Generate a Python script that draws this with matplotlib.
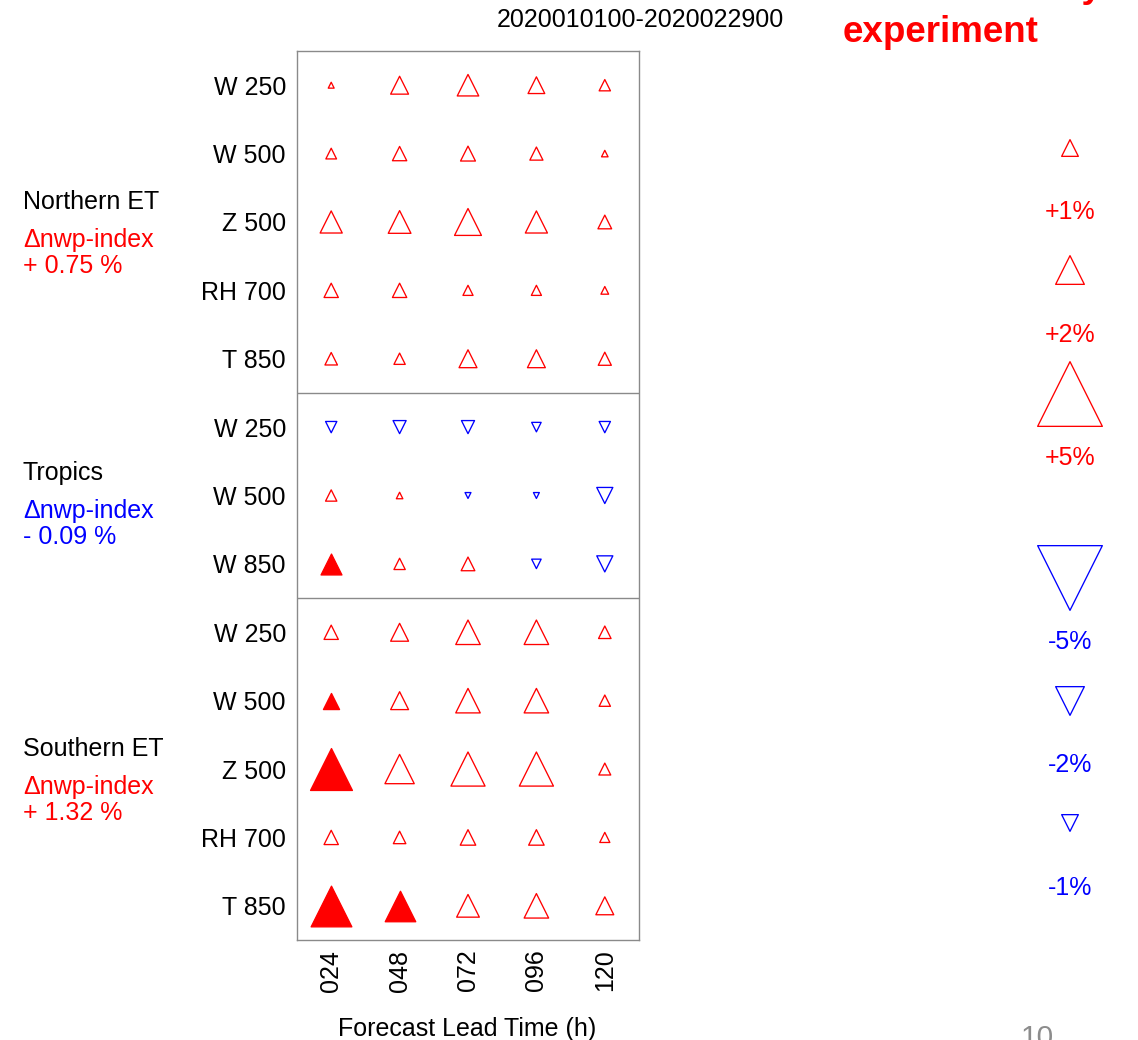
import matplotlib
matplotlib.use("Agg")
import matplotlib.pyplot as plt
import numpy as np

plt.rcParams['font.family'] = ['Liberation Sans', 'DejaVu Sans']

W, H = 1138, 1040

# scorecard rows (top to bottom) and lead times
row_labels = ["W 250", "W 500", "Z 500", "RH 700", "T 850",
              "W 250", "W 500", "W 850",
              "W 250", "W 500", "Z 500", "RH 700", "T 850"]
lead_times = ["024", "048", "072", "096", "120"]

# relative change of the score (%) per region, row x lead time
north = [[0.10, 1.10, 1.40, 1.00, 0.55],
         [0.50, 0.80, 0.85, 0.70, 0.15],
         [1.45, 1.50, 1.85, 1.45, 0.75],
         [0.80, 0.80, 0.45, 0.45, 0.25],
         [0.65, 0.55, 1.10, 1.10, 0.70]]
tropics = [[-0.55, -0.70, -0.70, -0.40, -0.55],
           [0.55, 0.15, -0.10, -0.10, -0.95],
           [1.35, 0.55, 0.75, -0.40, -0.95]]
south = [[0.80, 1.10, 1.65, 1.65, 0.65],
         [0.95, 1.10, 1.65, 1.65, 0.55],
         [3.10, 2.05, 2.45, 2.45, 0.60],
         [0.80, 0.65, 0.90, 0.90, 0.45],
         [3.00, 2.15, 1.50, 1.65, 1.10]]

# statistically significant cells (drawn filled): (row, column)
significant = [(7, 0), (9, 0), (10, 0), (12, 0), (12, 1)]

regions = ["Northern ET", "Tropics", "Southern ET"]
region_index = [0.75, -0.09, 1.32]

legend_values = [1, 2, 5, -5, -2, -1]

RED = "#ff0000"
BLUE = "#0000ff"
GREY = "#8a8a8a"


def msize(v):
    # triangle size in points from the percentage change
    return ((4.7 + 12.0 * abs(v)) * 0.72) ** 2


values = np.array(north + tropics + south)

fig = plt.figure(figsize=(W / 100, H / 100), dpi=100)
ax = fig.add_axes([297 / W, 1 - 940 / H, 342 / W, 889 / H])

for i in range(values.shape[0]):
    for j in range(values.shape[1]):
        v = values[i, j]
        col = RED if v > 0 else BLUE
        mk = "^" if v > 0 else "v"
        face = col if (i, j) in significant else "none"
        ax.scatter(j, i, s=msize(v), marker=mk, facecolors=face,
                   edgecolors=col, linewidths=0.95)

ax.axhline(4.5, color=GREY, lw=1.0)
ax.axhline(7.5, color=GREY, lw=1.0)
ax.set_xlim(-0.5, 4.5)
ax.set_ylim(12.5, -0.5)
ax.set_yticks(range(len(row_labels)))
ax.set_yticklabels(row_labels, fontsize=18)
ax.set_xticks(range(len(lead_times)))
ax.set_xticklabels(lead_times, fontsize=18, rotation=90)
ax.tick_params(length=0, pad=8)
ax.tick_params(axis="x", pad=7)
for s in ax.spines.values():
    s.set_color(GREY)
    s.set_linewidth(1.0)

# overlay in pixel coordinates for the free text and the size key
ov = fig.add_axes([0, 0, 1, 1], zorder=-1)
ov.set_xlim(0, W)
ov.set_ylim(H, 0)
ov.axis("off")

ov.text(640, 27, "2020010100-2020022900", fontsize=18, ha="center", va="baseline")
ov.text(941, 42, "experiment", fontsize=26.5, fontweight="bold", color=RED,
        ha="center", va="baseline")
ov.text(1103, -3, "by", fontsize=26.5, fontweight="bold", color=RED,
        ha="right", va="baseline")
ov.text(467, 1036, "Forecast Lead Time (h)", fontsize=18, ha="center", va="baseline")
ov.text(1021, 1046, "10", fontsize=21.5, color="#8c8c8c", va="baseline")

region_base = [209, 480, 756]
for name, idx, yb in zip(regions, region_index, region_base):
    col = RED if idx > 0 else BLUE
    sign = "+" if idx > 0 else "-"
    ov.text(23, yb, name, fontsize=18, va="baseline")
    ov.text(23, yb + 38, "\u0394nwp-index", fontsize=18, color=col, va="baseline")
    ov.text(23, yb + 64, f"{sign} {abs(idx):.2f} %", fontsize=18, color=col,
            va="baseline")

key_marker_y = [148, 270, 394, 578, 701, 823]
key_label_y = [219, 342, 465, 649, 772, 895]
for v, ym, yl in zip(legend_values, key_marker_y, key_label_y):
    col = RED if v > 0 else BLUE
    ov.scatter(1070, ym, s=msize(v), marker="^" if v > 0 else "v",
               facecolors="none", edgecolors=col, linewidths=0.95, clip_on=False)
    ov.text(1070, yl, f"{v:+d}%", fontsize=18, color=col, ha="center", va="baseline")

fig.savefig("out.png", dpi=100)
